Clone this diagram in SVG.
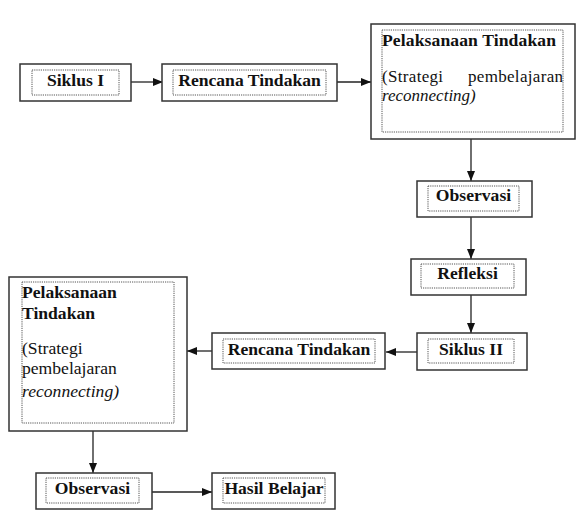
<svg xmlns="http://www.w3.org/2000/svg" width="581" height="515" viewBox="0 0 581 515">
<defs>
<style>
.outer{fill:#fff;stroke:#333;stroke-width:1.5}
.inner{fill:none;stroke:#555;stroke-width:1;stroke-dasharray:1.2 1}
.b{font-family:"Liberation Serif","Times New Roman",serif;font-weight:bold;font-size:17.6px;fill:#111}
.c{text-anchor:middle}
.r{font-family:"Liberation Serif","Times New Roman",serif;font-size:17.6px;fill:#111}
.i{font-style:italic}
.s{font-size:17px}
.con{stroke:#222;stroke-width:1.3;fill:none;marker-end:url(#ah)}
</style>
<marker id="ah" markerUnits="userSpaceOnUse" markerWidth="10" markerHeight="10" viewBox="0 0 10 10" refX="10" refY="5" orient="auto">
<path d="M0,1 L10,5 L0,9 Z" fill="#111"/>
</marker>
</defs>
<rect width="581" height="515" fill="#fff"/>
<g id="connectors">
<line class="con" x1="131" y1="82" x2="163" y2="82"/>
<line class="con" x1="337" y1="82" x2="371" y2="82"/>
<line class="con" x1="471" y1="139" x2="471" y2="181"/>
<line class="con" x1="471" y1="217" x2="471" y2="259"/>
<line class="con" x1="471" y1="295" x2="471" y2="333"/>
<line class="con" x1="417" y1="352" x2="386" y2="352"/>
<line class="con" x1="212" y1="351" x2="187" y2="351"/>
<line class="con" x1="93" y1="431" x2="93" y2="473"/>
<line class="con" x1="152" y1="492" x2="212" y2="492"/>
</g>
<g id="siklus1">
<rect class="outer" x="20" y="64" width="111" height="37"/>
<rect class="inner" x="32" y="70" width="87" height="25"/>
<text class="b c" x="75.5" y="86">Siklus I</text>
</g>
<g id="rencana1">
<rect class="outer" x="162" y="64" width="175" height="37"/>
<rect class="inner" x="173" y="70" width="153" height="25"/>
<text class="b c" x="249.5" y="86">Rencana Tindakan</text>
</g>
<g id="pelaksanaan1">
<rect class="outer" x="371" y="24" width="204" height="115"/>
<rect class="inner" x="382" y="30" width="181" height="102"/>
<text class="b" x="382" y="46" textLength="174" lengthAdjust="spacing">Pelaksanaan Tindakan</text>
<text class="r s" x="382" y="81.5" textLength="181" lengthAdjust="spacing" word-spacing="20">(Strategi pembelajaran</text>
<text class="r i s" x="382" y="100.5">reconnecting)</text>
</g>
<g id="observasi1">
<rect class="outer" x="417" y="181" width="115" height="36"/>
<rect class="inner" x="428" y="186" width="91" height="25"/>
<text class="b c" x="473.5" y="201">Observasi</text>
</g>
<g id="refleksi">
<rect class="outer" x="411" y="259" width="115" height="36"/>
<rect class="inner" x="421" y="264" width="93" height="24"/>
<text class="b c" x="467.5" y="279">Refleksi</text>
</g>
<g id="siklus2">
<rect class="outer" x="417" y="333" width="110" height="37"/>
<rect class="inner" x="428" y="339" width="86" height="24"/>
<text class="b c" x="471" y="355">Siklus II</text>
</g>
<g id="rencana2">
<rect class="outer" x="212" y="333" width="173" height="36"/>
<rect class="inner" x="223" y="339" width="152" height="24"/>
<text class="b c" x="299" y="355">Rencana Tindakan</text>
</g>
<g id="pelaksanaan2">
<rect class="outer" x="9" y="277" width="178" height="154"/>
<rect class="inner" x="22" y="282" width="152" height="141"/>
<text class="b" x="22" y="298">Pelaksanaan</text>
<text class="b" x="22" y="319">Tindakan</text>
<text class="r" x="22" y="354">(Strategi</text>
<text class="r" x="22" y="374">pembelajaran</text>
<text class="r i" x="22" y="397">reconnecting)</text>
</g>
<g id="observasi2">
<rect class="outer" x="36" y="473" width="116" height="36"/>
<rect class="inner" x="46" y="478" width="93" height="25"/>
<text class="b c" x="92.5" y="494">Observasi</text>
</g>
<g id="hasil">
<rect class="outer" x="212" y="473" width="123" height="36"/>
<rect class="inner" x="223" y="478" width="102" height="25"/>
<text class="b c" x="274" y="494">Hasil Belajar</text>
</g>
</svg>
